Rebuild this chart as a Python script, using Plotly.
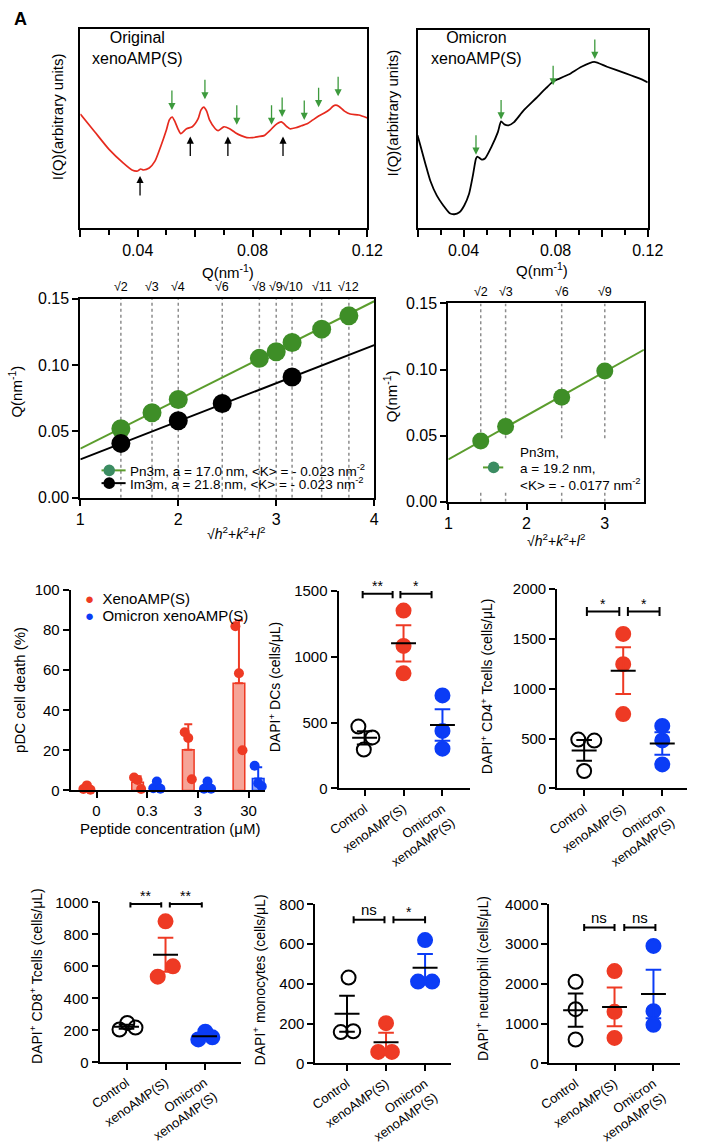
import numpy as np
import plotly.graph_objects as go

# ---------------- data ----------------
# A: SAXS, original xenoAMP(S)
q_orig = [0.020, 0.025, 0.030, 0.035, 0.038, 0.040, 0.041, 0.042, 0.044, 0.046,
          0.048, 0.050, 0.051, 0.052, 0.053, 0.054, 0.055, 0.057, 0.059, 0.061,
          0.062, 0.063, 0.064, 0.065, 0.067, 0.068, 0.070, 0.072, 0.074, 0.076,
          0.078, 0.080, 0.082, 0.084, 0.086, 0.088, 0.090, 0.092, 0.093, 0.095,
          0.097, 0.099, 0.101, 0.103, 0.105, 0.107, 0.108, 0.109, 0.110, 0.112,
          0.114, 0.117, 0.120]
i_orig = [116, 98, 80, 66, 59, 58, 60, 59, 61, 68,
          83, 100, 110, 113, 108, 101, 96, 101, 103, 111,
          120, 123, 119, 110, 101, 99, 103, 101, 97, 94,
          92, 92, 93, 94, 99, 105, 108, 103, 101, 102,
          104, 106, 110, 114, 117, 121, 124, 125, 124, 119,
          116, 115, 112]
# B: SAXS, Omicron xenoAMP(S)
q_omi = [0.020, 0.0214, 0.0235, 0.0256, 0.0284, 0.0312, 0.034, 0.036, 0.0382, 0.0403,
         0.0424, 0.044, 0.0454, 0.046, 0.0479, 0.0493, 0.0521, 0.0549, 0.0563, 0.0577,
         0.0595, 0.0618, 0.066, 0.0716, 0.0758, 0.0789, 0.0807, 0.0856, 0.0912, 0.0967,
         0.1023, 0.1107, 0.1163, 0.120]
i_omi = [95, 83, 65, 48, 33, 23, 15, 14, 16, 23,
         35, 53, 71, 73, 70, 71, 83, 98, 109, 106,
         105, 108, 120, 133, 143, 150, 152, 157, 165, 170,
         165, 158, 153, 149]
# peak arrows (Q, intensity at arrow tip)
arr_green_orig_q = [0.0519, 0.0634, 0.0745, 0.0866, 0.0903, 0.098, 0.103, 0.1098]
arr_green_orig_i = [120, 131, 105, 105, 113, 110, 123, 134]
arr_black_orig_q = [0.0408, 0.0583, 0.0714, 0.0906]
arr_black_orig_i = [53, 93, 93, 93]
arr_green_omi_q = [0.0454, 0.0563, 0.0789, 0.097]
arr_green_omi_i = [75, 111, 146, 173]

# C: lattice indexing, original
lat_labels_orig = ["√2", "√3", "√4", "√6", "√8", "√9", "√10", "√11", "√12"]
lat_pos_orig = [1.414, 1.732, 2.0, 2.449, 2.828, 3.0, 3.162, 3.464, 3.742]
pn3m_x = [1.414, 1.732, 2.0, 2.828, 3.0, 3.162, 3.464, 3.742]
pn3m_q = [0.052, 0.064, 0.074, 0.105, 0.110, 0.117, 0.127, 0.137]
im3m_x = [1.414, 2.0, 2.449, 3.162]
im3m_q = [0.041, 0.058, 0.071, 0.091]
fit_x_orig = [1, 4]
pn3m_fit = [0.037, 0.148]
im3m_fit = [0.029, 0.115]
legend_orig = ["Pn3m, a = 17.0 nm, <K> = - 0.023 nm<sup>-2</sup>",
               "Im3m, a = 21.8 nm, <K> = - 0.023 nm<sup>-2</sup>"]
# D: lattice indexing, Omicron
lat_labels_omi = ["√2", "√3", "√6", "√9"]
lat_pos_omi = [1.414, 1.732, 2.449, 3.0]
omi_q = [0.046, 0.057, 0.079, 0.099]
fit_x_omi = [1, 3.5]
omi_fit = [0.032, 0.115]
legend_omi = ["Pn3m,", "a = 19.2 nm,", "<K> = - 0.0177 nm<sup>-2</sup>"]

# E: pDC cell death (%)
conc_labels = ["0", "0.3", "3", "30"]
death_xeno = [[0.7, 2.5, 0.3], [6.4, 5.2, 0.7], [29, 26.2, 5.6], [82, 58.5, 20]]
omi_conc_idx = [1, 2, 3]
death_omi = [[1.1, 4.4, 0.8], [0.8, 4.4, 0.8], [12.3, 3.6, 2.0]]

# F-J: DAPI+ cell counts (cells/uL)
groups = ["Control", "xenoAMP(S)", "Omicron<br>xenoAMP(S)"]
dcs = [[470, 388, 295], [1352, 1083, 875], [707, 437, 302]]
cd4 = [[490, 480, 175], [1551, 1247, 746], [627, 482, 241]]
cd8 = [[205, 246, 217], [881, 600, 535], [143, 191, 156]]
mono = [[431, 157, 161], [202, 57, 57], [620, 411, 411]]
neut = [[2049, 1361, 598], [2320, 1295, 639], [2951, 1311, 967]]
sig_dcs = ["**", "*"]
sig_cd4 = ["*", "*"]
sig_cd8 = ["**", "**"]
sig_mono = ["ns", "*"]
sig_neut = ["ns", "ns"]

# ---------------- style ----------------
FONT = "Liberation Sans, Arial, sans-serif"
W, H = 710, 1144
RED = "#ee3a24"
BLUE = "#0b3cf6"
GREEN = "#3e8e27"
GREENLINE = "#5b9d2d"
ARROWG = "#3d9a3d"
TEAL = "#3b8c62"
ROT_DX = -10   # compensation for rotated title placement


def fx(p):
    return p / W


def fy(p):
    return 1 - p / H


fig = go.Figure()
ann = []
shapes = []
layout = {}


def box_axes(n, xd, yd, xr, yr, mirror=True):
    xs = "xaxis" if n == 1 else f"xaxis{n}"
    ys = "yaxis" if n == 1 else f"yaxis{n}"
    common = dict(showline=True, linecolor="black", linewidth=2, mirror=mirror,
                  showgrid=False, zeroline=False, ticks="outside", tickcolor="black",
                  tickwidth=1.5, ticklen=6, tickfont=dict(family=FONT, size=15, color="black"))
    layout[xs] = dict(domain=[fx(xd[0]), fx(xd[1])], range=xr,
                      anchor=f"y{'' if n == 1 else n}", **common)
    layout[ys] = dict(domain=[fy(yd[1]), fy(yd[0])], range=yr,
                      anchor=f"x{'' if n == 1 else n}", **common)
    return layout[xs], layout[ys]


def title(text, x, y, size=15, angle=0):
    if angle:
        x = x + ROT_DX
    ann.append(dict(text=text, x=fx(x), y=fy(y), xref="paper", yref="paper",
                    showarrow=False, textangle=angle, xanchor="center", yanchor="middle",
                    font=dict(family=FONT, size=size, color="black")))


def legend_entry(text_lines, ys, x_line0, x_line1, x_dot, y_dot, x_text, dot_color, line_color):
    shapes.append(dict(type="line", xref="paper", yref="paper", x0=fx(x_line0), x1=fx(x_line1),
                       y0=fy(y_dot), y1=fy(y_dot), line=dict(color=line_color, width=2)))
    r = 6
    shapes.append(dict(type="circle", xref="paper", yref="paper", x0=fx(x_dot - r), x1=fx(x_dot + r),
                       y0=fy(y_dot + r), y1=fy(y_dot - r), fillcolor=dot_color,
                       line=dict(color=dot_color, width=0)))
    for t, yy in zip(text_lines, ys):
        ann.append(dict(text=t, x=fx(x_text), y=fy(yy), xref="paper", yref="paper", showarrow=False,
                        xanchor="left", yanchor="middle",
                        font=dict(family=FONT, size=13.5, color="black")))


# ---------- A & B: SAXS curves ----------
for n, xd, yd in [(1, (73, 371), (20, 223)), (2, (423, 662), (21, 223))]:
    xa, ya = box_axes(n, xd, yd, [0.02, 0.12], [0, 203])
    xa.update(tickvals=[0.02, 0.04, 0.06, 0.08, 0.10, 0.12],
              ticktext=["", "0.04", "", "0.08", "", "0.12"], ticklen=7,
              tickfont=dict(family=FONT, size=16, color="black"),
              minor=dict(dtick=0.01, tick0=0.0, ticks="outside", ticklen=5,
                         tickwidth=1.5, tickcolor="black"))
    ya.update(ticks="", showticklabels=False)

fig.add_trace(go.Scatter(x=q_orig, y=i_orig, mode="lines", xaxis="x", yaxis="y",
                         line=dict(color="#e62a1e", width=1.7, shape="spline", smoothing=0.6),
                         showlegend=False, hoverinfo="skip"))
fig.add_trace(go.Scatter(x=q_omi, y=i_omi, mode="lines", xaxis="x2", yaxis="y2",
                         line=dict(color="black", width=1.8, shape="spline", smoothing=0.6),
                         showlegend=False, hoverinfo="skip"))


def arrows(qs, ii, xr, yr, color, down=True):
    for q, i in zip(qs, ii):
        ann.append(dict(x=q, y=i, xref=xr, yref=yr, text="", showarrow=True,
                        ax=0, ay=-21 if down else 21, arrowhead=2, arrowsize=1.1,
                        arrowwidth=1.3, arrowcolor=color))


arrows(arr_green_orig_q, arr_green_orig_i, "x", "y", ARROWG, True)
arrows(arr_black_orig_q, arr_black_orig_i, "x", "y", "black", False)
arrows(arr_green_omi_q, arr_green_omi_i, "x2", "y2", ARROWG, True)

title("Original<br>xenoAMP(S)", 132, 40, 16)
title("Omicron<br>xenoAMP(S)", 484, 40, 16)
title("I(Q)(arbitrary units)", 60, 110, 15, -90)
title("I(Q)(arbitrary units)", 407, 106, 15, -90)
title("Q(nm<sup>-1</sup>)", 226, 267, 15)
title("Q(nm<sup>-1</sup>)", 552, 265, 15)

# ---------- C & D: lattice ----------
for n, xd, yd, xr in [(3, (73, 378), (295, 498), [1, 4]), (4, (455, 658), (300, 502), [1, 3.5])]:
    xa, ya = box_axes(n, xd, yd, xr, [0, 0.15])
    xa.update(tickvals=[1, 2, 3, 4], tickfont=dict(family=FONT, size=16, color="black"))
    ya.update(tickvals=[0, 0.05, 0.10, 0.15], tickformat=".2f",
              tickfont=dict(family=FONT, size=16, color="black"))

for p, lab in zip(lat_pos_orig, lat_labels_orig):
    shapes.append(dict(type="line", xref="x3", yref="y3", x0=p, x1=p, y0=0, y1=0.15,
                       line=dict(color="#8c8c8c", width=1.5, dash="dot"), layer="below"))
    ann.append(dict(text=lab, x=p, y=fy(283), xref="x3", yref="paper", showarrow=False,
                    xanchor="center", yanchor="middle", font=dict(family=FONT, size=12.5, color="black")))
for p, lab in zip(lat_pos_omi, lat_labels_omi):
    for y0, y1 in [(0.048, 0.15), (0.0, 0.009)]:
        shapes.append(dict(type="line", xref="x4", yref="y4", x0=p, x1=p, y0=y0, y1=y1,
                           line=dict(color="#8c8c8c", width=1.5, dash="dot"), layer="below"))
    ann.append(dict(text=lab, x=p, y=fy(288), xref="x4", yref="paper", showarrow=False,
                    xanchor="center", yanchor="middle", font=dict(family=FONT, size=12.5, color="black")))

fig.add_trace(go.Scatter(x=fit_x_orig, y=pn3m_fit, mode="lines", xaxis="x3", yaxis="y3",
                         line=dict(color=GREENLINE, width=2), showlegend=False, hoverinfo="skip"))
fig.add_trace(go.Scatter(x=fit_x_orig, y=im3m_fit, mode="lines", xaxis="x3", yaxis="y3",
                         line=dict(color="black", width=2), showlegend=False, hoverinfo="skip"))
fig.add_trace(go.Scatter(x=pn3m_x, y=pn3m_q, mode="markers", xaxis="x3", yaxis="y3",
                         marker=dict(color=GREEN, size=19), showlegend=False, cliponaxis=False))
fig.add_trace(go.Scatter(x=im3m_x, y=im3m_q, mode="markers", xaxis="x3", yaxis="y3",
                         marker=dict(color="black", size=19), showlegend=False, cliponaxis=False))
fig.add_trace(go.Scatter(x=fit_x_omi, y=omi_fit, mode="lines", xaxis="x4", yaxis="y4",
                         line=dict(color=GREENLINE, width=2), showlegend=False, hoverinfo="skip"))
fig.add_trace(go.Scatter(x=lat_pos_omi, y=omi_q, mode="markers", xaxis="x4", yaxis="y4",
                         marker=dict(color=GREEN, size=17), showlegend=False, cliponaxis=False))

# legends drawn as shapes + text
legend_entry([legend_orig[0]], [470], 95, 120, 103, 470, 123, TEAL, GREENLINE)
legend_entry([legend_orig[1]], [483], 95, 120, 103, 483, 123, "black", "black")
legend_entry(legend_omi, [452, 468, 484], 491, 512, 502, 467, 527, TEAL, GREENLINE)

hkl = "√<i>h</i><sup>2</sup>+<i>k</i><sup>2</sup>+<i>l</i><sup>2</sup>"
title(hkl, 235, 534, 14)
title(hkl, 567, 541, 14)
title("Q(nm<sup>-1</sup>)", 16, 390, 15, -90)
title("Q(nm<sup>-1</sup>)", 405, 395, 15, -90)

# ---------- E: bar chart ----------
xa, ya = box_axes(5, (63, 265), (592, 796), [-0.51, 3.33], [0, 100], mirror=False)
xa.update(tickvals=[0, 1, 2, 3], ticktext=conc_labels)
ya.update(tickvals=[0, 20, 40, 60, 80, 100])
OFF = 0.19
xeno_pos = [i - OFF for i in range(len(conc_labels))]
omi_pos = [i + OFF for i in omi_conc_idx]
xm = [float(np.mean(v)) for v in death_xeno]
xs = [float(np.std(v, ddof=1)) for v in death_xeno]
om = [float(np.mean(v)) for v in death_omi]
osd = [float(np.std(v, ddof=1)) for v in death_omi]
fig.add_trace(go.Bar(x=xeno_pos, y=xm, width=0.23, xaxis="x5", yaxis="y5",
                     marker=dict(color="#f6a497", line=dict(color=RED, width=1.5)),
                     error_y=dict(type="data", array=xs, arrayminus=[0] * len(xs), symmetric=False,
                                  color=RED, thickness=2, width=4),
                     showlegend=False))
fig.add_trace(go.Bar(x=omi_pos, y=om, width=0.23, xaxis="x5", yaxis="y5",
                     marker=dict(color="#8ea3fb", line=dict(color=BLUE, width=1.5)),
                     error_y=dict(type="data", array=osd, arrayminus=[0] * len(osd), symmetric=False,
                                  color=BLUE, thickness=2, width=4),
                     showlegend=False))
jit_e = [-0.07, 0.0, 0.07]
ex, ey = [], []
for p, vals in zip(xeno_pos, death_xeno):
    for j, v in zip(jit_e, vals):
        ex.append(p + j)
        ey.append(v)
fig.add_trace(go.Scatter(x=ex, y=ey, mode="markers", xaxis="x5", yaxis="y5",
                         marker=dict(color=RED, size=10), showlegend=False, cliponaxis=False))
bx, by = [], []
for p, vals in zip(omi_pos, death_omi):
    for j, v in zip(jit_e, vals):
        bx.append(p + j)
        by.append(v)
fig.add_trace(go.Scatter(x=bx, y=by, mode="markers", xaxis="x5", yaxis="y5",
                         marker=dict(color=BLUE, size=10), showlegend=False, cliponaxis=False))
ann.append(dict(text=f"<span style='color:{RED}'>●</span>  XenoAMP(S)", x=fx(76), y=fy(601),
                xref="paper", yref="paper", showarrow=False, xanchor="left", yanchor="middle",
                font=dict(family=FONT, size=15, color="black")))
ann.append(dict(text=f"<span style='color:{BLUE}'>●</span>  Omicron xenoAMP(S)", x=fx(76), y=fy(618),
                xref="paper", yref="paper", showarrow=False, xanchor="left", yanchor="middle",
                font=dict(family=FONT, size=15, color="black")))
title("pDC cell death (%)", 20, 694, 15, -90)
title("Peptide concentration (μM)", 166, 835, 15)

# ---------- F-J: dot plots ----------
panels = [
    (6, dcs, sig_dcs, (341, 478), (593, 794), [-0.67, 2.72], [0, 1500], [0, 500, 1000, 1500],
     [[-0.16, 0.2, -0.02], [0, 0, 0], [0, 0, 0]], 1480, [(-0.05, 0.72), (0.92, 1.72)],
     "DAPI<sup>+</sup> DCs (cells/μL)", (285, 690)),
    (7, cd4, sig_cd4, (568, 703), (591, 794), [-0.69, 2.64], [0, 2000], [0, 500, 1000, 1500, 2000],
     [[-0.15, 0.26, 0], [0, 0, 0], [0, 0, 0]], 1775, [(0.07, 0.9), (1.12, 1.93)],
     "DAPI<sup>+</sup> CD4<sup>+</sup> Tcells (cells/μL)", (505, 690)),
    (8, cd8, sig_cd8, (93, 240), (910, 1073), [-0.69, 2.94], [0, 1000], [0, 200, 400, 600, 800, 1000],
     [[-0.18, 0.02, 0.23], [0, 0.19, -0.2], [-0.16, 0.02, 0.2]], 990, [(0.1, 0.89), (1.11, 1.93)],
     "DAPI<sup>+</sup> CD8<sup>+</sup> Tcells (cells/μL)", (37, 985)),
    (9, mono, sig_mono, (317, 458), (912, 1074), [-0.81, 2.67], [0, 800], [0, 200, 400, 600, 800],
     [[0.04, -0.16, 0.16], [0, -0.2, 0.15], [0, -0.18, 0.18]], 722, [(0.17, 0.96), (1.19, 2.0)],
     "DAPI<sup>+</sup> monocytes (cells/μL)", (268, 989)),
    (10, neut, sig_neut, (560, 695), (912, 1074), [-0.67, 2.67], [0, 4000], [0, 1000, 2000, 3000, 4000],
     [[0, 0, 0], [0, 0, 0], [0, 0, 0]], 3415, [(0.22, 1.0), (1.25, 2.05)],
     "DAPI<sup>+</sup> neutrophil (cells/μL)", (500, 988)),
]
colors = ["black", RED, BLUE]
for (n, data, sig, xd, yd, xr, yr, yt, jit, by_, brx, ttl, tpos) in panels:
    xa, ya = box_axes(n, xd, yd, xr, yr, mirror=False)
    xa.update(tickvals=[0, 1, 2], ticktext=groups, tickangle=-35,
              tickfont=dict(family=FONT, size=13, color="black"))
    ya.update(tickvals=yt)
    xn, yn = f"x{n}", f"y{n}"
    for g, (vals, col, jj) in enumerate(zip(data, colors, jit)):
        sym = "circle-open" if g == 0 else "circle"
        fig.add_trace(go.Scatter(x=[g + j for j in jj], y=vals, mode="markers", xaxis=xn, yaxis=yn,
                                 marker=dict(color=col, size=14, symbol=sym,
                                             line=dict(width=2, color=col)),
                                 showlegend=False, cliponaxis=False))
    for g, (vals, col) in enumerate(zip(data, colors)):
        m = float(np.mean(vals))
        se = float(np.std(vals, ddof=1) / np.sqrt(len(vals)))
        lo, hi = m - se, m + se
        fig.add_trace(go.Scatter(x=[g, g, None, g - 0.2, g + 0.2, None, g - 0.2, g + 0.2],
                                 y=[lo, hi, None, hi, hi, None, lo, lo], mode="lines",
                                 xaxis=xn, yaxis=yn, line=dict(color=col, width=2),
                                 showlegend=False, hoverinfo="skip"))
        fig.add_trace(go.Scatter(x=[g - 0.32, g + 0.32], y=[m, m], mode="lines",
                                 xaxis=xn, yaxis=yn, line=dict(color="black", width=2),
                                 showlegend=False, hoverinfo="skip"))
    cap = 0.045 * yr[1]
    for (x0, x1), s in zip(brx, sig):
        for (a0, a1, b0, b1) in [(x0, x1, by_, by_), (x0, x0, by_ - cap / 2, by_ + cap / 2),
                                 (x1, x1, by_ - cap / 2, by_ + cap / 2)]:
            shapes.append(dict(type="line", xref=xn, yref=yn, x0=a0, x1=a1, y0=b0, y1=b1,
                               line=dict(color="black", width=2)))
        is_ns = s == "ns"
        ann.append(dict(text=s, x=(x0 + x1) / 2, y=by_, xref=xn, yref=yn, showarrow=False,
                        yanchor="bottom", yshift=0 if is_ns else -2,
                        font=dict(family=FONT, size=15 if is_ns else 14, color="black")))
    title(ttl, tpos[0], tpos[1], 14, -90)

# panel letter
ann.append(dict(text="<b>A</b>", x=fx(2), y=fy(10), xref="paper", yref="paper", showarrow=False,
                xanchor="left", yanchor="middle", font=dict(family=FONT, size=18, color="black")))

layout.update(
    width=W, height=H, margin=dict(l=0, r=0, t=0, b=0),
    paper_bgcolor="white", plot_bgcolor="rgba(0,0,0,0)",
    font=dict(family=FONT, color="black"),
    barmode="overlay", showlegend=False,
    annotations=ann, shapes=shapes,
)
fig.update_layout(**layout)
fig.write_html("out.html")
